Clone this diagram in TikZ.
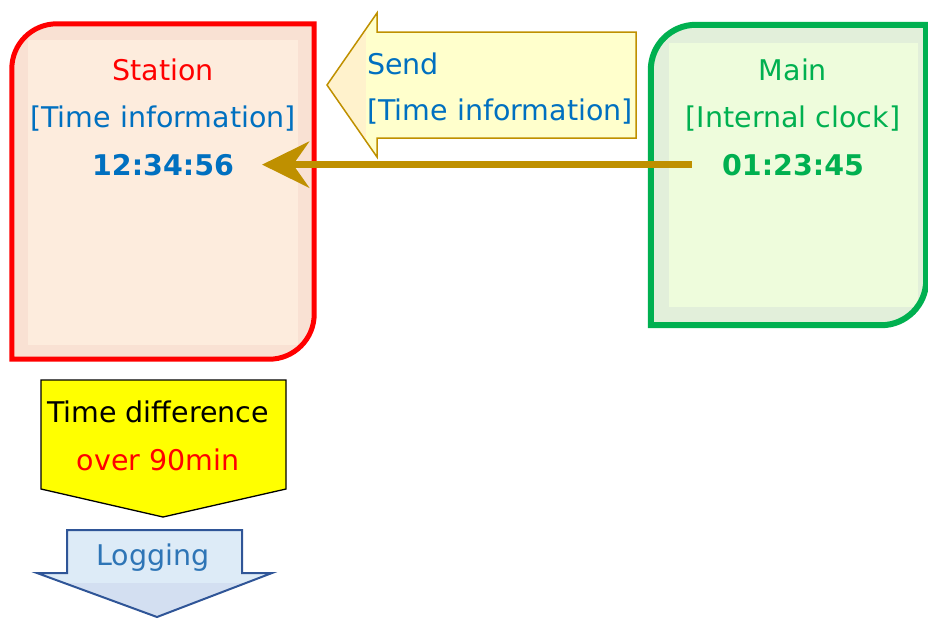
\documentclass[tikz,border=0pt]{standalone}
\usepackage{fontspec}
\setmainfont{DejaVu Sans}
\usepackage{xcolor}
\usetikzlibrary{arrows.meta, positioning}

\definecolor{stationred}{HTML}{FF0000}
\definecolor{stationfill}{HTML}{F9E1D3}
\definecolor{stationinner}{HTML}{FDECDD}
\definecolor{maingreen}{HTML}{00B050}
\definecolor{mainfill}{HTML}{E2EFDA}
\definecolor{maininner}{HTML}{EEFCDC}
\definecolor{infoblue}{HTML}{0070C0}
\definecolor{sendgold}{HTML}{BF9000}
\definecolor{sendfill}{HTML}{FFFFCC}
\definecolor{sendhead}{HTML}{FFF2CC}
\definecolor{diffyellow}{HTML}{FFFF00}
\definecolor{logblue}{HTML}{2F5597}
\definecolor{logfill}{HTML}{DDEBF7}
\definecolor{loghead}{HTML}{D3DFF1}
\definecolor{logtext}{HTML}{2E75B6}

\begin{document}
\begin{tikzpicture}[x=1pt, y=1pt]
        \tikzstyle{area} = [rectangle, inner sep=0pt]
        \tikzstyle{txt} = [inner sep=0pt, anchor=base, font=\fontsize{28.5}{34}\selectfont]
        \tikzstyle{clock} = [txt, font=\fontsize{28.5}{34}\selectfont\bfseries]
        \tikzstyle{line} = [draw, line width=7pt, sendgold, -{Stealth[length=47pt, width=46pt, inset=16pt]}]

        \useasboundingbox (0,0) rectangle (928,-619);

        % station box
        \node [area, minimum width=302pt, minimum height=335pt] (station) at (163,-191.5) {};
        \fill [stationfill] (station.south west) -- ([yshift=-45pt]station.north west) arc[start angle=180, end angle=90, radius=45pt] -- (station.north east) -- ([yshift=45pt]station.south east) arc[start angle=0, end angle=-90, radius=45pt] -- cycle;
        \fill [stationinner] ([shift={(16pt,-16pt)}]station.north west) rectangle ([shift={(-16pt,14pt)}]station.south east);
        \draw [stationred, line width=5pt] (station.south west) -- ([yshift=-45pt]station.north west) arc[start angle=180, end angle=90, radius=45pt] -- (station.north east) -- ([yshift=45pt]station.south east) arc[start angle=0, end angle=-90, radius=45pt] -- cycle;

        % main box
        \node [area, minimum width=275pt, minimum height=300pt] (main) at (788.5,-175) {};
        \fill [mainfill] (main.south west) -- ([yshift=-45pt]main.north west) arc[start angle=180, end angle=90, radius=45pt] -- (main.north east) -- ([yshift=45pt]main.south east) arc[start angle=0, end angle=-90, radius=45pt] -- cycle;
        \fill [maininner] ([shift={(18pt,-18pt)}]main.north west) rectangle ([shift={(-8pt,18pt)}]main.south east);
        \draw [maingreen, line width=6pt] (main.south west) -- ([yshift=-45pt]main.north west) arc[start angle=180, end angle=90, radius=45pt] -- (main.north east) -- ([yshift=45pt]main.south east) arc[start angle=0, end angle=-90, radius=45pt] -- cycle;

        % send arrow
        \begin{scope}
        \clip (327,-85) -- (377,-13) -- (377,-32) -- (636,-32) -- (636,-138) -- (377,-138) -- (377,-157) -- cycle;
        \fill [sendfill] (320,0) rectangle (640,-160);
        \fill [sendhead] (320,0) rectangle (366,-160);
        \end{scope}
        \draw [sendgold, line width=1.5pt, line join=miter] (327,-85) -- (377,-13) -- (377,-32) -- (636,-32) -- (636,-138) -- (377,-138) -- (377,-157) -- cycle;

        % time difference and logging
        \draw [fill=diffyellow, line width=1.3pt] (41,-380) -- (286,-380) -- (286,-489) -- (163,-517) -- (41,-489) -- cycle;
        \fill [logfill] (67,-530) -- (242,-530) -- (242,-573) -- (272,-573) -- (157,-617) -- (37,-573) -- (67,-573) -- cycle;
        \fill [loghead] (67,-583) -- (247,-583) -- (157,-617) -- cycle;
        \draw [logblue, line width=2pt, line join=miter] (67,-530) -- (242,-530) -- (242,-573) -- (272,-573) -- (157,-617) -- (37,-573) -- (67,-573) -- cycle;

        \node [txt, text=stationred] (stationname) at (163,-80) {Station};
        \node [txt, text=infoblue, below=47.5pt of stationname.base, anchor=base] (stationinfo) {[Time information]};
        \node [clock, text=infoblue, below=47.5pt of stationinfo.base, anchor=base] (stationtime) {12:34:56};

        \node [txt, text=maingreen] (mainname) at (793,-80) {Main};
        \node [txt, text=maingreen, below=47.5pt of mainname.base, anchor=base] (maininfo) {[Internal clock]};
        \node [clock, text=maingreen, below=47.5pt of maininfo.base, anchor=base] (maintime) {01:23:45};

        \node [txt, text=infoblue, anchor=base west] (sendname) at (367,-74) {Send};
        \node [txt, text=infoblue, below=46pt of sendname.base west, anchor=base west] (sendinfo) {[Time information]};

        \node [txt] (diff) at (158,-422) {Time difference};
        \node [txt, text=stationred, below=48pt of diff.base, anchor=base] (limit) {over 90min};
        \node [txt, text=logtext] (logging) at (153,-565) {Logging};

        \path [line] ([xshift=-30pt]maintime.west) -- ([xshift=28pt]stationtime.east);
    \end{tikzpicture}
\end{document}
